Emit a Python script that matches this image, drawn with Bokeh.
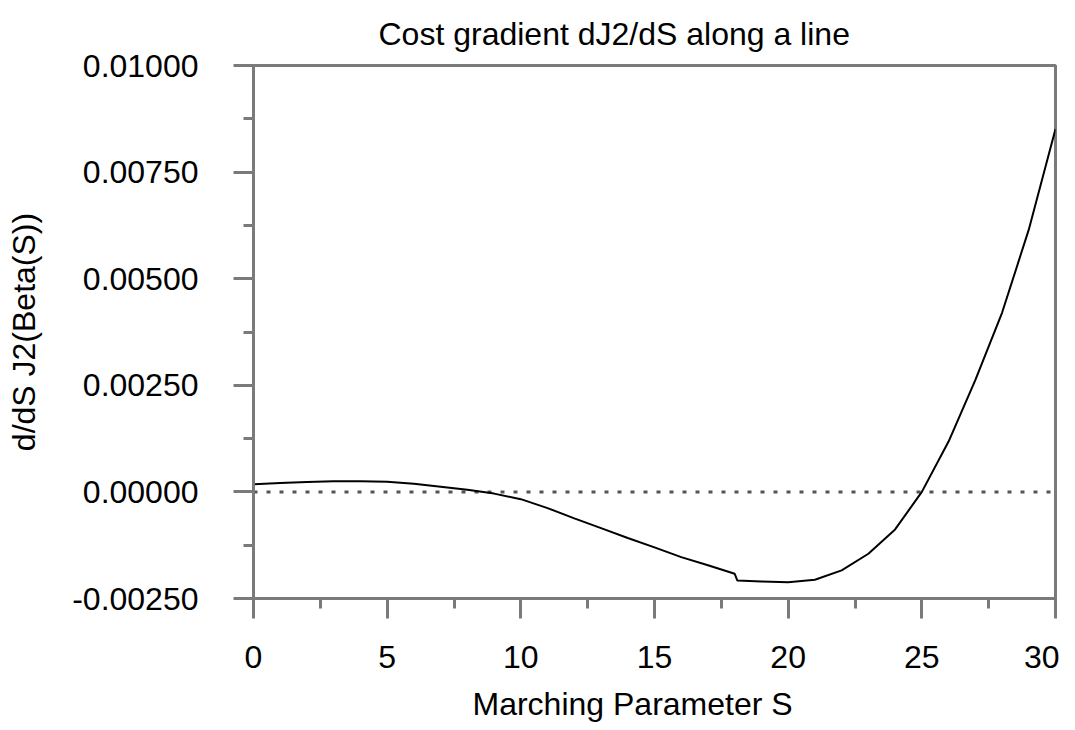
from bokeh.plotting import figure
from bokeh.models import Range1d, FixedTicker, PrintfTickFormatter, Title
from bokeh.embed import file_html
from bokeh.resources import INLINE

# Data
s_vals = [0, 1, 2, 3, 4, 5, 6, 7, 8, 9, 10, 11, 12, 13, 14, 15, 16, 17, 18, 18.1,
          19, 20, 21, 22, 23, 24, 25, 26, 27, 28, 29, 30]
grad_vals = [0.00018, 0.00021, 0.00023, 0.00025, 0.00025, 0.00024, 0.00019, 0.00012,
             0.00005, -0.00004, -0.00017, -0.00038, -0.00062, -0.00085, -0.00108,
             -0.00130, -0.00153, -0.00172, -0.00192, -0.00208, -0.00210, -0.00212,
             -0.00206, -0.00184, -0.00145, -0.00088, 0.0, 0.00118, 0.00262, 0.00420,
             0.00615, 0.00851]
zero_x = [0, 30]
zero_y = [0.0, 0.0]
x_ticks = [0, 5, 10, 15, 20, 25, 30]
x_minor = [2.5, 7.5, 12.5, 17.5, 22.5, 27.5]
y_ticks = [-0.0025, 0.0, 0.0025, 0.005, 0.0075, 0.01]
y_minor = [-0.00125, 0.00125, 0.00375, 0.00625, 0.00875]
title_text = "Cost gradient dJ2/dS along a line"
x_label = "Marching Parameter S"
y_label = "d/dS J2(Beta(S))"

FONT = "Liberation Sans"
FS = "32px"
GREY = "#7a7a7a"

p = figure(width=1059, height=724, output_backend="svg", toolbar_location=None,
           x_range=Range1d(0, 30), y_range=Range1d(-0.0025, 0.01),
           min_border_left=253, min_border_right=4, min_border_top=65,
           min_border_bottom=126)
p.title = Title(text=title_text, align="left", offset=125,
                text_font=FONT, text_font_size=FS, text_font_style="normal",
                text_color="black", standoff=10, padding={"bottom": 9})
p.add_layout(Title(text=x_label, align="left", offset=219,
                   text_font=FONT, text_font_size=FS, text_font_style="normal",
                   text_color="black", standoff=0, padding={"top": 13}), "below")
p.grid.visible = False
p.background_fill_color = "white"
p.border_fill_color = "white"
p.outline_line_color = GREY
p.outline_line_width = 3

for ax in (p.xaxis[0], p.yaxis[0]):
    ax.axis_line_color = GREY
    ax.axis_line_width = 3
    ax.major_tick_line_color = GREY
    ax.major_tick_line_width = 3
    ax.minor_tick_line_color = GREY
    ax.minor_tick_line_width = 3
    ax.major_tick_out = 20
    ax.major_tick_in = 0
    ax.minor_tick_out = 10
    ax.minor_tick_in = 0
    ax.major_label_text_font = FONT
    ax.major_label_text_font_size = FS
    ax.major_label_text_color = "black"
    ax.axis_label_text_font = FONT
    ax.axis_label_text_font_size = FS
    ax.axis_label_text_font_style = "normal"
    ax.axis_label_text_color = "black"

p.xaxis.ticker = FixedTicker(ticks=x_ticks, minor_ticks=x_minor)
p.yaxis.ticker = FixedTicker(ticks=y_ticks, minor_ticks=y_minor)
p.yaxis.formatter = PrintfTickFormatter(format="%.5f")
p.xaxis.major_label_standoff = 27
p.yaxis.major_label_standoff = 35
p.yaxis.axis_label = y_label
p.yaxis.axis_label_standoff = 27

p.line(zero_x, zero_y, line_color="#555555", line_width=3, line_dash="4 9")
p.line(s_vals, grad_vals, line_color="black", line_width=2)

open("out.html", "w").write(file_html(p, INLINE))
